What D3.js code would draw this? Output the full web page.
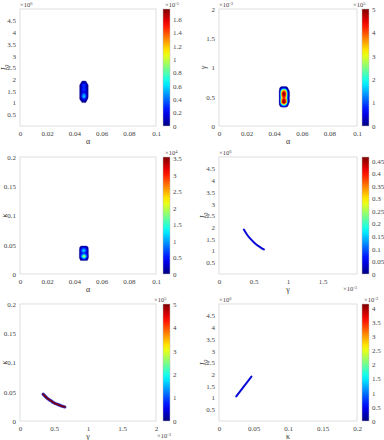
<!DOCTYPE html>
<html>
<head>
<meta charset="utf-8">
<script src="https://cdn.jsdelivr.net/npm/d3@7"></script>
<style>
  body { margin: 0; background: #fff; }
  svg { font-family: "Liberation Serif", "DejaVu Serif", serif; }
</style>
</head>
<body>
<svg width="384" height="440"></svg>
<script>
// tick values
const alphaTicks = [0, 0.02, 0.04, 0.06, 0.08, 0.1];
const i0Ticks = [0.5, 1, 1.5, 2, 2.5, 3, 3.5, 4, 4.5];
const gammaTicks = [0, 0.5, 1, 1.5, 2];
const gammaTicksNoEnd = [0, 0.5, 1, 1.5];
const kappaTicks = [0, 0.05, 0.1, 0.15, 0.2];

// colorbar ticks
const cbTicks1 = [0, 0.2, 0.4, 0.6, 0.8, 1, 1.2, 1.4, 1.6];
const cbTicks2 = [0, 1, 2, 3, 4, 5];
const cbTicks3 = [0, 0.5, 1, 1.5, 2, 2.5, 3, 3.5];
const cbTicks4 = [0, 0.05, 0.1, 0.15, 0.2, 0.25, 0.3, 0.35, 0.4, 0.45];
const cbTicks5 = [0, 1, 2, 3, 4, 5];
const cbTicks6 = [0, 0.5, 1, 1.5, 2, 2.5, 3, 3.5, 4];

// density (alpha, I0), x1e-5 ; rows from I0=2.0 down, step 0.1 ; cols from alpha=0.043, step 0.001
const densAlphaI0 = [
  [0, 0, 0, 0, 0, 0, 0, 0],
  [0, 0, .1, .15, .15, .1, 0, 0],
  [0, .1, .25, .4, .4, .25, .1, 0],
  [0, .1, .2, .3, .3, .2, .1, 0],
  [0, .1, .25, .35, .35, .25, .1, 0],
  [0, .1, .2, .25, .25, .2, .1, 0],
  [0, .1, .3, .5, .5, .3, .1, 0],
  [0, .1, .35, .65, .65, .35, .1, 0],
  [0, .1, .2, .3, .3, .2, .05, 0],
  [0, 0, .05, .1, .1, .05, 0, 0]
];
// density (alpha, gamma), x1e5 ; rows from gamma=0.70e-3 down, step 0.04e-3
const densAlphaGamma = [
  [0, 0, 0, 0, 0, 0, 0, 0, 0],
  [0, .3, .8, 1, 1, .8, .3, 0, 0],
  [0, .8, 3, 4, 4, 3, .8, .2, 0],
  [0, 1, 4, 5.2, 5.2, 4, 1.2, .3, 0],
  [0, 1, 3.5, 5, 5, 3.8, 1.2, .3, 0],
  [0, .8, 3, 4.2, 4.2, 3, 1, .2, 0],
  [0, 1, 3.8, 5, 5, 4, 1.2, .3, 0],
  [0, 1, 4, 5.2, 5.2, 4, 1.2, .2, 0],
  [0, .5, 1.5, 2, 2, 1.5, .5, 0, 0],
  [0, 0, 0, 0, 0, 0, 0, 0, 0]
];
// density (alpha, kappa), x1e4 ; rows from kappa=0.050 down, step 0.003
const densAlphaKappa = [
  [0, 0, 0, 0, 0, 0, 0, 0],
  [0, .2, .4, .5, .5, .4, .2, 0],
  [0, .4, .8, 1, 1, .7, .3, 0],
  [0, .5, 1, 1.4, 1.3, .8, .4, 0],
  [0, .4, .6, .7, .7, .5, .3, 0],
  [0, .5, .8, 1, 1, .8, .4, 0],
  [0, .5, 1.2, 2, 2.3, 1.2, .5, 0],
  [0, .4, .8, 1.3, 1.3, .8, .4, 0],
  [0, .1, .2, .3, .3, .2, .1, 0]
];

// thin ridges
const ridgeGamma1 = [0.36, 0.40, 0.45, 0.50, 0.55, 0.60, 0.65];
const ridgeI0 = [1.90, 1.71, 1.52, 1.37, 1.24, 1.14, 1.05];
const ridgeGamma2 = [0.34, 0.40, 0.45, 0.50, 0.55, 0.60, 0.66];
const ridgeKappa = [0.046, 0.039, 0.035, 0.031, 0.0285, 0.026, 0.024];
const ridgeKappa2 = [0.025, 0.047];
const ridgeI0b = [1.05, 1.90];

const svg = d3.select("svg");

function jet(t) {
  t = Math.max(0, Math.min(1, t));
  const c = v => Math.round(255 * Math.max(0, Math.min(1, v)));
  return `rgb(${c(1.5 - Math.abs(4 * t - 3))},${c(1.5 - Math.abs(4 * t - 2))},${c(1.5 - Math.abs(4 * t - 1))})`;
}

// gradient for colorbars
const grad = svg.append("defs").append("linearGradient")
  .attr("id", "jetGrad").attr("x1", 0).attr("y1", 1).attr("x2", 0).attr("y2", 0);
d3.range(0, 1.0001, 0.05).forEach(t => {
  grad.append("stop").attr("offset", t).attr("stop-color", jet(t));
});

const colBox = [[20, 156], [219, 357]];
const colBar = [[163, 170], [362, 369]];
const rowBox = [[9, 126], [157, 274], [304, 421]];

const panels = [
  {c: 0, r: 0, xDom: [0, 0.1], xTicks: alphaTicks, xLabel: "α",
   yDom: [0, 5], yTicks: i0Ticks, yLabel: "I", ySub: "0", yExp: "6",
   cbMax: 1.75, cbTicks: cbTicks1, cbExp: "-5", cbExpDx: 2,
   grid: densAlphaI0, gx0: 0.043, gdx: 0.001, gyTop: 2.0, gdy: 0.1},
  {c: 1, r: 0, xDom: [0, 0.1], xTicks: alphaTicks, xLabel: "α",
   yDom: [0, 2], yTicks: gammaTicks, yLabel: "γ", yExp: "-3",
   cbMax: 5, cbTicks: cbTicks2, cbExp: "5", cbExpDx: -9,
   grid: densAlphaGamma, gx0: 0.043, gdx: 0.001, gyTop: 0.70, gdy: 0.04},
  {c: 0, r: 1, xDom: [0, 0.1], xTicks: alphaTicks, xLabel: "α",
   yDom: [0, 0.2], yTicks: kappaTicks, yLabel: "κ",
   cbMax: 3.55, cbTicks: cbTicks3, cbExp: "4", cbExpDx: 2,
   grid: densAlphaKappa, gx0: 0.043, gdx: 0.001, gyTop: 0.050, gdy: 0.003},
  {c: 1, r: 1, xDom: [0, 2], xTicks: gammaTicksNoEnd, xLabel: "γ", xExp: "-3", xExpDx: 0,
   yDom: [0, 5], yTicks: i0Ticks, yLabel: "I", ySub: "0", yExp: "6",
   cbMax: 0.465, cbTicks: cbTicks4,
   ridge: [ridgeGamma1, ridgeI0], ridgeColors: ["#0a0ad8"], ridgeWidths: [2]},
  {c: 0, r: 2, xDom: [0, 2], xTicks: gammaTicks, xLabel: "γ", xExp: "-3", xExpDx: 15,
   yDom: [0, 0.2], yTicks: kappaTicks, yLabel: "κ",
   cbMax: 5, cbTicks: cbTicks5, cbExp: "5", cbExpDx: -9,
   ridge: [ridgeGamma2, ridgeKappa], ridgeColors: ["#2a3ae0", "#7a0010"], ridgeWidths: [3.2, 1.8]},
  {c: 1, r: 2, xDom: [0, 0.2], xTicks: kappaTicks, xLabel: "κ",
   yDom: [0, 5], yTicks: i0Ticks, yLabel: "I", ySub: "0", yExp: "6",
   cbMax: 4.15, cbTicks: cbTicks6, cbExp: "-3", cbExpDx: 2,
   ridge: [ridgeKappa2, ridgeI0b], ridgeColors: ["#0a0ad8"], ridgeWidths: [2]}
];

const tickColor = "#444", fs = 7;

function expText(g, x, y, exp, anchor) {
  const t = g.append("text").attr("x", x).attr("y", y)
    .attr("font-size", 6.5).attr("fill", tickColor).attr("text-anchor", anchor || "start");
  t.append("tspan").text("×10");
  t.append("tspan").attr("dy", -2.5).attr("font-size", 4.5).text(exp);
}

panels.forEach(p => {
  const [x0, x1] = colBox[p.c], [y0, y1] = rowBox[p.r];
  const xScale = d3.scaleLinear().domain(p.xDom).range([x0, x1]);
  const yScale = d3.scaleLinear().domain(p.yDom).range([y1, y0]);
  const g = svg.append("g");

  // clip for plot marks
  const clipId = "clip" + p.c + p.r;
  g.append("clipPath").attr("id", clipId).append("rect")
    .attr("x", x0).attr("y", y0).attr("width", x1 - x0).attr("height", y1 - y0);

  // filled density contours
  if (p.grid) {
    const nRows = p.grid.length, nCols = p.grid[0].length;
    const levels = d3.range(p.cbMax * 0.02, p.cbMax * 1.1, p.cbMax / 14);
    const contours = d3.contours().size([nCols, nRows]).thresholds(levels)(p.grid.flat());
    const proj = d3.geoTransform({
      point: function(gx, gy) {
        this.stream.point(xScale(p.gx0 + gx * p.gdx), yScale(p.gyTop - gy * p.gdy));
      }
    });
    g.append("g").attr("clip-path", `url(#${clipId})`)
      .selectAll("path").data(contours).join("path")
      .attr("d", d3.geoPath(proj))
      .attr("fill", d => jet(d.value / p.cbMax))
      .attr("stroke", d => jet(d.value / p.cbMax))
      .attr("stroke-width", 0.3);
  }

  // ridge lines
  if (p.ridge) {
    const pts = p.ridge[0].map((v, i) => [v, p.ridge[1][i]]);
    const line = d3.line().x(d => xScale(d[0])).y(d => yScale(d[1])).curve(d3.curveMonotoneX);
    p.ridgeColors.forEach((col, k) => {
      g.append("path").attr("d", line(pts)).attr("fill", "none")
        .attr("stroke", col).attr("stroke-width", p.ridgeWidths[k])
        .attr("stroke-linecap", "round");
    });
  }

  // axes
  const xAxis = d3.axisBottom(xScale).tickValues(p.xTicks).tickSize(0).tickPadding(5)
    .tickFormat(d3.format("~g"));
  const yAxis = d3.axisLeft(yScale).tickValues(p.yTicks).tickSize(0).tickPadding(4)
    .tickFormat(d3.format("~g"));
  const xg = g.append("g").attr("transform", `translate(0,${y1})`).call(xAxis);
  const yg = g.append("g").attr("transform", `translate(${x0},0)`).call(yAxis);
  [xg, yg].forEach(a => {
    a.select(".domain").remove();
    a.selectAll("text").attr("font-size", fs).attr("fill", tickColor)
      .attr("font-family", "Liberation Serif");
  });

  // box
  g.append("rect").attr("x", x0).attr("y", y0).attr("width", x1 - x0).attr("height", y1 - y0)
    .attr("fill", "none").attr("stroke", "#d6d6d6").attr("stroke-width", 0.8);

  // labels
  g.append("text").attr("x", (x0 + x1) / 2).attr("y", y1 + 18)
    .attr("text-anchor", "middle").attr("font-size", 8).attr("fill", "#333")
    .text(p.xLabel);
  const yl = g.append("text")
    .attr("transform", `translate(${x0 - 13},${(y0 + y1) / 2}) rotate(-90)`)
    .attr("text-anchor", "middle").attr("font-size", 8).attr("fill", "#333")
    .attr("font-style", "italic");
  yl.append("tspan").text(p.yLabel);
  if (p.ySub) yl.append("tspan").attr("dy", 2).attr("font-size", 6).text(p.ySub);

  if (p.yExp) expText(g, x0, y0 - 2, p.yExp);
  if (p.xExp) expText(g, x1 + p.xExpDx, y1 + 17, p.xExp, "end");

  // colorbar
  const [b0, b1] = colBar[p.c];
  const cScale = d3.scaleLinear().domain([0, p.cbMax]).range([y1, y0]);
  g.append("rect").attr("x", b0).attr("y", y0).attr("width", b1 - b0).attr("height", y1 - y0)
    .attr("fill", "url(#jetGrad)").attr("stroke", "#bbb").attr("stroke-width", 0.5);
  const cAxis = d3.axisRight(cScale).tickValues(p.cbTicks).tickSize(0).tickPadding(3)
    .tickFormat(d3.format("~g"));
  const cg = g.append("g").attr("transform", `translate(${b1},0)`).call(cAxis);
  cg.select(".domain").remove();
  cg.selectAll("text").attr("font-size", fs).attr("fill", tickColor)
    .attr("font-family", "Liberation Serif");
  if (p.cbExp) expText(g, b0 + p.cbExpDx, y0 - 2, p.cbExp);
});
</script>
</body>
</html>
